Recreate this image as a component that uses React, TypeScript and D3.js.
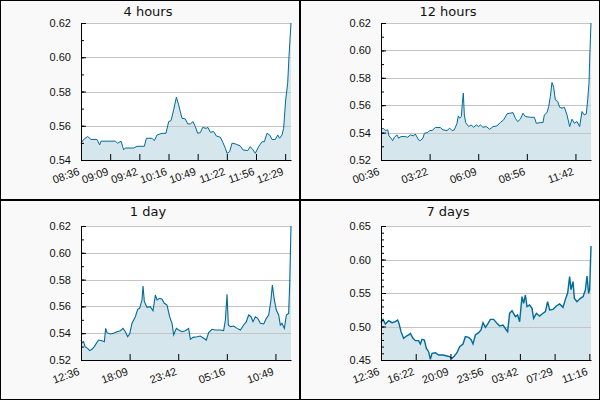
import React, { FC, useEffect, useRef } from "react"
import { area, axisBottom, axisLeft, format, line, scaleLinear, scaleTime, select } from "d3"

type Pt = [number, number]

// [minutes since start, price]
const fourHoursData: Pt[] = [
  [0, 0.5498], [3.0, 0.552], [7.6, 0.5537], [11.4, 0.552], [18.3, 0.552], [21.3, 0.5488],
  [22.9, 0.551], [39.2, 0.551], [41.9, 0.5498], [45.7, 0.551], [48.8, 0.5459], [50.7, 0.547],
  [60.2, 0.547], [64.0, 0.548], [72.4, 0.548], [74.7, 0.5527], [81.1, 0.5527], [83.8, 0.5513],
  [86.9, 0.5546], [92.6, 0.5556], [97.1, 0.5556], [100.2, 0.5624], [102.9, 0.563], [105.9, 0.5693],
  [109.0, 0.5767], [111.6, 0.5722], [115.4, 0.5644], [119.2, 0.564], [121.9, 0.5611], [125.0, 0.5611],
  [128.0, 0.5624], [130.7, 0.5595], [133.3, 0.5556], [136.4, 0.556], [139.0, 0.559], [142.9, 0.5585],
  [145.1, 0.559], [147.8, 0.5562], [151.6, 0.5566], [154.7, 0.554], [159.2, 0.5533], [162.3, 0.5501],
  [165.0, 0.5468], [166.9, 0.5439], [169.9, 0.5449], [172.6, 0.5498], [176.4, 0.5494], [182.1, 0.5482],
  [185.1, 0.5459], [190.5, 0.5455], [193.5, 0.5478], [196.6, 0.5459], [199.2, 0.5439], [203.0, 0.5478],
  [206.9, 0.5507], [209.5, 0.5507], [212.6, 0.5556], [215.6, 0.5546], [218.3, 0.552], [222.1, 0.552],
  [224.8, 0.5546], [227.0, 0.5527], [229.7, 0.5546], [231.6, 0.5585], [233.9, 0.5751], [236.2, 0.5849],
  [237.7, 0.6005], [240, 0.62],
]

// [minutes since start, price]
const twelveHoursData: Pt[] = [
  [0, 0.542], [6.9, 0.5432], [14.9, 0.5415], [22.9, 0.542], [27.4, 0.5376], [34.3, 0.5359],
  [40, 0.5341], [45.7, 0.5366], [54.9, 0.5383], [60.6, 0.5359], [68.6, 0.5371], [83.4, 0.5371],
  [91.4, 0.5366], [100.6, 0.5383], [112, 0.5376], [117.7, 0.539], [129.1, 0.5346], [134.9, 0.5341],
  [144, 0.5359], [148.6, 0.5395], [160, 0.54], [166.9, 0.5415], [174.9, 0.5415], [186.3, 0.5437],
  [203.4, 0.5437], [212.6, 0.542], [226.3, 0.5415], [235.4, 0.5432], [243.4, 0.5415], [251.4, 0.542],
  [260.6, 0.5468], [265.1, 0.5522], [269.7, 0.5505], [275.4, 0.5517], [278.9, 0.5615], [282.3, 0.5688],
  [285.7, 0.5529], [290.3, 0.5473], [300.6, 0.5444], [308.6, 0.5456], [317.7, 0.5439], [326.9, 0.5456],
  [334.9, 0.5444], [340.6, 0.5456], [349.7, 0.5439], [361.1, 0.5444], [372.6, 0.5424], [384, 0.5444],
  [397.7, 0.5449], [409.1, 0.5473], [420.6, 0.5493], [432, 0.5537], [441.1, 0.5541], [452.6, 0.5546],
  [460.6, 0.5505], [468.6, 0.548], [477.7, 0.5498], [486.9, 0.5541], [494.9, 0.5517], [512, 0.5512],
  [525.7, 0.5512], [532.6, 0.5468], [546.3, 0.5473], [555.4, 0.5473], [560, 0.5529], [569.1, 0.5546],
  [574.9, 0.559], [580.6, 0.5663], [586.3, 0.5766], [592, 0.5732], [597.7, 0.5639], [605.7, 0.5627],
  [612.6, 0.5585], [620.6, 0.5578], [628.6, 0.5585], [637.7, 0.5529], [646.9, 0.5444], [654.9, 0.5498],
  [662.9, 0.5468], [672, 0.548], [681.1, 0.5444], [689.1, 0.5554], [697.1, 0.5529], [704, 0.5537],
  [708.6, 0.5639], [713.1, 0.5761], [716.6, 0.6005], [720, 0.62],
]

// [hours since start, price]
const oneDayData: Pt[] = [
  [0, 0.5349], [0.15, 0.5329], [0.3, 0.5337], [0.46, 0.53], [0.76, 0.5287], [0.99, 0.527],
  [1.26, 0.528], [1.52, 0.53], [1.75, 0.5324], [2.02, 0.5349], [2.4, 0.5344], [2.67, 0.5337],
  [2.82, 0.5436], [2.97, 0.5404], [3.35, 0.5394], [3.73, 0.5399], [4.11, 0.5411], [4.5, 0.5419],
  [4.8, 0.5436], [5.07, 0.5411], [5.33, 0.5374], [5.56, 0.5394], [5.83, 0.5474], [6.21, 0.5523],
  [6.48, 0.5578], [6.7, 0.5586], [6.97, 0.5648], [7.09, 0.5752], [7.24, 0.5635], [7.54, 0.5593],
  [7.92, 0.5598], [8.23, 0.5568], [8.5, 0.5685], [8.69, 0.5648], [8.99, 0.566], [9.26, 0.5653],
  [9.52, 0.5623], [9.83, 0.561], [10.13, 0.5523], [10.4, 0.5474], [10.59, 0.5387], [10.9, 0.5436],
  [11.16, 0.5424], [11.54, 0.5411], [11.92, 0.5419], [12.3, 0.5436], [12.5, 0.5354], [12.8, 0.5369],
  [13.26, 0.5374], [13.64, 0.5379], [14.02, 0.5362], [14.32, 0.5349], [14.59, 0.5404], [14.97, 0.5429],
  [15.35, 0.5424], [15.92, 0.5424], [16.3, 0.5419], [16.5, 0.5498], [16.69, 0.569], [16.84, 0.5461],
  [17.07, 0.5449], [17.45, 0.5454], [17.83, 0.5436], [18.21, 0.5424], [18.59, 0.5461], [18.9, 0.5486],
  [19.16, 0.5536], [19.43, 0.5523], [19.66, 0.5486], [19.92, 0.5523], [20.19, 0.5511], [20.5, 0.5474],
  [20.88, 0.5469], [21.18, 0.5511], [21.45, 0.5536], [21.71, 0.5648], [21.87, 0.576], [22.1, 0.5648],
  [22.32, 0.5573], [22.59, 0.5536], [22.78, 0.5461], [22.97, 0.5474], [23.24, 0.5436], [23.47, 0.5536],
  [23.73, 0.5548], [23.85, 0.576], [24, 0.62],
]

// [hours since start, price]
const sevenDaysData: Pt[] = [
  [0, 0.5057], [1.6, 0.5107], [3.5, 0.5037], [6.1, 0.5087], [8.8, 0.5057], [11.5, 0.5072],
  [13.3, 0.5097], [14.4, 0.5047], [16, 0.4923], [18.1, 0.4823], [20.3, 0.4858], [22.1, 0.4873],
  [23.5, 0.4898], [25.6, 0.4823], [27.5, 0.4789], [30.1, 0.4789], [31.5, 0.4739], [32.8, 0.4808],
  [34.7, 0.4798], [36.3, 0.4674], [38.1, 0.4624], [39.5, 0.451], [40.8, 0.46], [43.5, 0.4609],
  [46.1, 0.4575], [49.6, 0.4575], [52.8, 0.456], [54.9, 0.455], [56.8, 0.4525], [58.7, 0.456],
  [60.8, 0.4609], [62.9, 0.4699], [65.6, 0.4739], [67.5, 0.4848], [70.1, 0.4838], [72, 0.4808],
  [73.6, 0.4739], [75.5, 0.4873], [78.1, 0.4908], [80, 0.4948], [81.6, 0.5057], [83.5, 0.4988],
  [85.3, 0.5037], [87.5, 0.5107], [90.1, 0.5107], [92.8, 0.5047], [94.9, 0.5007], [97.6, 0.5022],
  [100.3, 0.4948], [101.3, 0.4923], [102.9, 0.5197], [104.8, 0.5236], [107.5, 0.5147], [109.3, 0.5172],
  [110.9, 0.5072], [112.8, 0.5445], [114.1, 0.5346], [115.5, 0.547], [116.8, 0.5296], [118.9, 0.5321],
  [120.8, 0.5271], [122.1, 0.5122], [124.3, 0.5197], [126.9, 0.5157], [128.8, 0.5187], [131.5, 0.5221],
  [133.3, 0.5371], [134.9, 0.5246], [137.6, 0.5256], [140.3, 0.5306], [142.9, 0.5336], [145.6, 0.5286],
  [147.5, 0.5405], [149.3, 0.5495], [150.9, 0.5744], [152, 0.555], [153.6, 0.5669], [154.7, 0.542],
  [156.8, 0.5371], [159.5, 0.542], [161.6, 0.5445], [163.5, 0.5545], [164.8, 0.5754], [166.1, 0.5495],
  [166.9, 0.5545], [168, 0.62],
]

const fourHoursTicks = ["08:36", "09:09", "09:42", "10:16", "10:49", "11:22", "11:56", "12:29"]
const twelveHoursTicks = ["00:36", "03:22", "06:09", "08:56", "11:42"]
const oneDayTicks = ["12:36", "18:09", "23:42", "05:16", "10:49"]
const sevenDaysTicks = ["12:36", "16:22", "20:09", "23:56", "03:42", "07:29", "11:16"]

const fourHoursY = [0.54, 0.56, 0.58, 0.6, 0.62]
const twelveHoursY = [0.52, 0.54, 0.56, 0.58, 0.6, 0.62]
const oneDayY = [0.52, 0.54, 0.56, 0.58, 0.6, 0.62]
const sevenDaysY = [0.45, 0.5, 0.55, 0.6, 0.65]

const MIN = 60 * 1000
const HOUR = 60 * MIN
const END = new Date(2024, 0, 15, 12, 36)

type Panel = {
  title: string
  data: Pt[]
  unit: number
  span: number
  tickStep: number
  ticks: string[]
  yTicks: number[]
  minorStep: number
  top: number
  strokeWidth: number
}

const panels: Panel[] = [
  { title: "4 hours", data: fourHoursData, unit: MIN, span: 4 * HOUR, tickStep: 2000 * 1000, ticks: fourHoursTicks, yTicks: fourHoursY, minorStep: 0.01, top: 23, strokeWidth: 1 },
  { title: "12 hours", data: twelveHoursData, unit: MIN, span: 12 * HOUR, tickStep: 10000 * 1000, ticks: twelveHoursTicks, yTicks: twelveHoursY, minorStep: 0.01, top: 23, strokeWidth: 1 },
  { title: "1 day", data: oneDayData, unit: HOUR, span: 24 * HOUR, tickStep: 20000 * 1000, ticks: oneDayTicks, yTicks: oneDayY, minorStep: 0.01, top: 26, strokeWidth: 1.1 },
  { title: "7 days", data: sevenDaysData, unit: HOUR, span: 168 * HOUR, tickStep: 100000 * 1000, ticks: sevenDaysTicks, yTicks: sevenDaysY, minorStep: 0.01, top: 26, strokeWidth: 1.4 },
]

const App: FC = () => {
  const svgRef = useRef<SVGSVGElement>(null)

  useEffect(() => {
    const svg = select(svgRef.current)
    svg.selectAll("*").remove()

    panels.forEach((p, i) => {
      const g = svg
        .append("g")
        .attr("transform", `translate(${(i % 2) * 300},${Math.floor(i / 2) * 200})`)
        .style("font-family", "'DejaVu Sans', sans-serif")

      const left = 81
      const right = 291
      const bottom = 160
      const start = new Date(END.getTime() - p.span)
      const yMin = p.yTicks[0]
      const yMax = p.yTicks[p.yTicks.length - 1]

      const x = scaleTime().domain([start, END]).range([left, right])
      const y = scaleLinear().domain([yMin, yMax]).range([bottom, p.top])
      const toDate = (d: Pt) => new Date(start.getTime() + d[0] * p.unit)

      // frame
      g.append("rect")
        .attr("x", 0.5)
        .attr("y", 0.5)
        .attr("width", 299)
        .attr("height", 199)
        .attr("fill", "#f9f9f9")
        .attr("stroke", "#000")

      g.append("rect")
        .attr("x", left)
        .attr("y", p.top)
        .attr("width", right - left)
        .attr("height", bottom - p.top)
        .attr("fill", "#fff")

      // area
      const areaGen = area<Pt>()
        .x((d) => x(toDate(d)))
        .y0(bottom)
        .y1((d) => y(d[1]))
      g.append("path").attr("d", areaGen(p.data)).attr("fill", "#d5e6ed")

      // grid
      g.selectAll(".grid")
        .data(p.yTicks.slice(1))
        .join("line")
        .attr("x1", left)
        .attr("x2", right)
        .attr("y1", (d) => Math.round(y(d)) + 0.5)
        .attr("y2", (d) => Math.round(y(d)) + 0.5)
        .attr("stroke", "#c4c4c4")

      // line
      const lineGen = line<Pt>()
        .x((d) => x(toDate(d)))
        .y((d) => y(d[1]))
      g.append("path")
        .attr("d", lineGen(p.data))
        .attr("fill", "none")
        .attr("stroke", "#006b99")
        .attr("stroke-width", p.strokeWidth)

      // minor y ticks
      const nMinor = Math.round((yMax - yMin) / p.minorStep)
      const minor = Array.from({ length: nMinor + 1 }, (_, k) => yMin + k * p.minorStep)
      const minorAxis = g
        .append("g")
        .attr("transform", `translate(${left},0)`)
        .call(axisLeft(y).tickValues(minor).tickSize(-3).tickSizeOuter(0).tickFormat(() => ""))
      minorAxis.select(".domain").remove()
      minorAxis.attr("color", "#000")

      // y axis
      g.append("g")
        .attr("transform", `translate(${left},0)`)
        .attr("color", "#000")
        .call(
          axisLeft(y)
            .tickValues(p.yTicks)
            .tickSize(-5)
            .tickSizeOuter(0)
            .tickPadding(10)
            .tickFormat((d) => format(".2f")(d as number)),
        )
        .call((a) => a.selectAll("text").attr("font-size", 11).attr("fill", "#111").attr("font-family", null))

      // x axis
      const tickDates = p.ticks.map((_, k) => new Date(start.getTime() + k * p.tickStep))
      g.append("g")
        .attr("transform", `translate(0,${bottom})`)
        .attr("color", "#000")
        .call(
          axisBottom(x)
            .tickValues(tickDates)
            .tickSize(-6)
            .tickSizeOuter(0)
            .tickFormat((_, k) => p.ticks[k]),
        )
        .call((a) =>
          a
            .selectAll("text")
            .attr("font-size", 11)
            .attr("font-family", null)
            .attr("fill", "#111")
            .attr("x", 0)
            .attr("y", 0)
            .attr("dy", "0.71em")
            .attr("text-anchor", "end")
            .attr("transform", "translate(-4,7) rotate(-20)"),
        )

      // title
      g.append("text")
        .attr("x", 148)
        .attr("y", 16)
        .attr("text-anchor", "middle")
        .attr("font-size", 13)
        .attr("fill", "#111")
        .text(p.title)
    })
  }, [])

  return (
    <svg
      ref={svgRef}
      width={600}
      height={400}
      style={{ position: "absolute", left: 0, top: 0, display: "block" }}
    />
  )
}

export default App
